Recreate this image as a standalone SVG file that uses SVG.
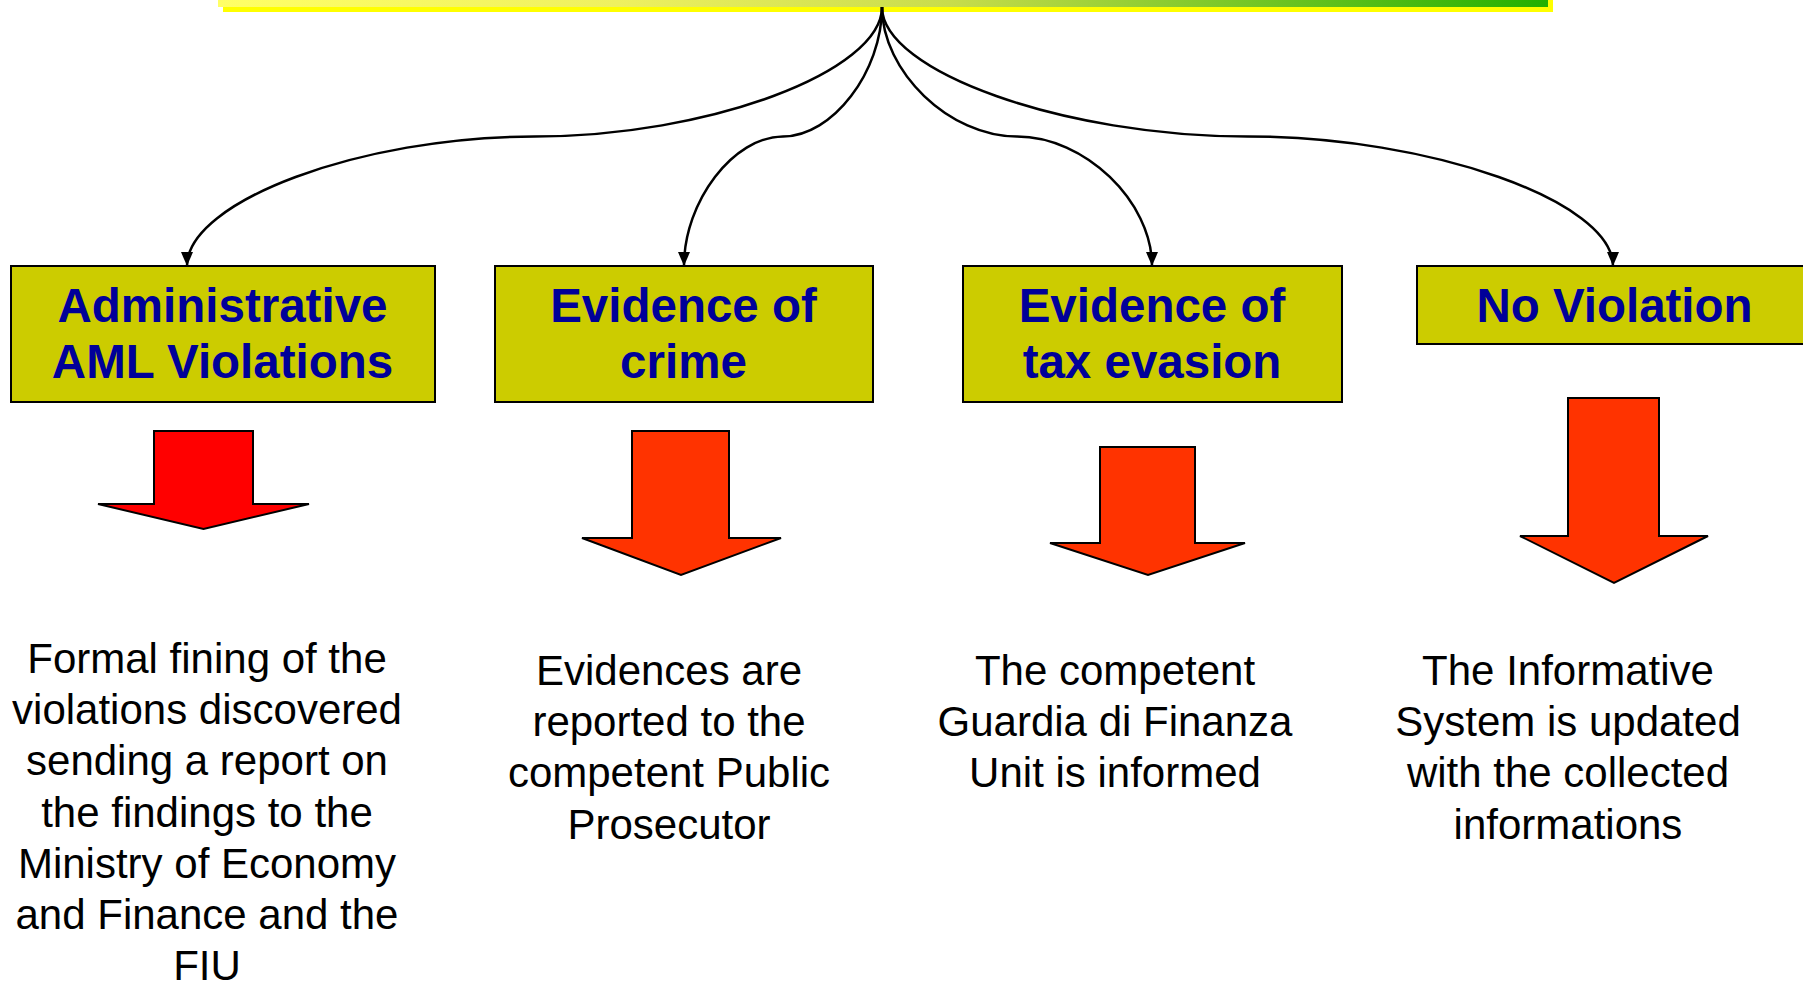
<svg xmlns="http://www.w3.org/2000/svg" width="1803" height="983" viewBox="0 0 1803 983">
<style>
.box{fill:#cccc00;stroke:#000;stroke-width:2}
.lbl{font-family:"Liberation Sans",Arial,sans-serif;font-weight:bold;font-size:47.5px;fill:#000099;text-anchor:middle}
.txt{font-family:"Liberation Sans",Arial,sans-serif;font-size:42px;fill:#000;text-anchor:middle}
.con{fill:none;stroke:#000;stroke-width:2.5}
.blk{stroke:#000;stroke-width:2;stroke-linejoin:miter}
</style>
<defs>
<linearGradient id="bar" x1="0" y1="0" x2="1" y2="0">
<stop offset="0" stop-color="#ffff66"/>
<stop offset="0.3" stop-color="#eef060"/>
<stop offset="0.55" stop-color="#c8dc4c"/>
<stop offset="1" stop-color="#22b000"/>
</linearGradient>
<marker id="ah" markerUnits="userSpaceOnUse" markerWidth="14" markerHeight="12" viewBox="0 0 14 12" refX="14" refY="6" orient="auto">
<path d="M0,0 L14,6 L0,12 Z" fill="#000"/>
</marker>
</defs>
<rect width="1803" height="983" fill="#fff"/>
<g id="title-bar">
<rect x="223" y="-45" width="1330" height="57" fill="#ffff00"/>
<rect x="218" y="-50" width="1330" height="57" fill="url(#bar)"/>
</g>
<g id="connectors">
<path class="con" marker-end="url(#ah)" d="M882,7 C882,71.75 708.25,136.5 534.5,136.5 C360.75,136.5 187,201.25 187,266"/>
<path class="con" marker-end="url(#ah)" d="M882,7 C882,71.75 832.5,136.5 783,136.5 C733.5,136.5 684,201.25 684,266"/>
<path class="con" marker-end="url(#ah)" d="M882,7 C882,71.75 949.5,136.5 1017,136.5 C1084.5,136.5 1152,201.25 1152,266"/>
<path class="con" marker-end="url(#ah)" d="M882,7 C882,71.75 1064.75,136.5 1247.5,136.5 C1430.25,136.5 1613,201.25 1613,266"/>
</g>
<g id="node-admin">
<rect class="box" x="11" y="266" width="424" height="136"/>
<text class="lbl" x="222.5" y="322">Administrative</text>
<text class="lbl" x="222.5" y="378">AML Violations</text>
</g>
<g id="node-crime">
<rect class="box" x="495" y="266" width="378" height="136"/>
<text class="lbl" x="683.5" y="322">Evidence of</text>
<text class="lbl" x="683.5" y="378">crime</text>
</g>
<g id="node-tax">
<rect class="box" x="963" y="266" width="379" height="136"/>
<text class="lbl" x="1152" y="322">Evidence of</text>
<text class="lbl" x="1152" y="378">tax evasion</text>
</g>
<g id="node-noviolation">
<rect class="box" x="1417" y="266" width="395" height="78"/>
<text class="lbl" x="1614.5" y="322">No Violation</text>
</g>
<g id="arrow-admin">
<path class="blk" fill="#ff0000" d="M154,431 H253 V504 H309 L203.5,529 L98,504 H154 Z"/>
</g>
<g id="arrow-crime">
<path class="blk" fill="#ff3300" d="M632,431 H729 V538 H781 L681,575 L582,538 H632 Z"/>
</g>
<g id="arrow-tax">
<path class="blk" fill="#ff3300" d="M1100,447 H1195 V543 H1245 L1148,575 L1050,543 H1100 Z"/>
</g>
<g id="arrow-noviolation">
<path class="blk" fill="#ff3300" d="M1568,398 H1659 V536 H1708 L1614,583 L1520,536 H1568 Z"/>
</g>
<g id="text-admin">
<text class="txt" x="207" y="673">Formal fining of the<tspan x="207" dy="51.2">violations discovered</tspan><tspan x="207" dy="51.2">sending a report on</tspan><tspan x="207" dy="51.2">the findings to the</tspan><tspan x="207" dy="51.2">Ministry of Economy</tspan><tspan x="207" dy="51.2">and Finance and the</tspan><tspan x="207" dy="51.2">FIU</tspan></text>
</g>
<g id="text-crime">
<text class="txt" x="669" y="685">Evidences are<tspan x="669" dy="51.2">reported to the</tspan><tspan x="669" dy="51.2">competent Public</tspan><tspan x="669" dy="51.2">Prosecutor</tspan></text>
</g>
<g id="text-tax">
<text class="txt" x="1115" y="685">The competent<tspan x="1115" dy="51.2">Guardia di Finanza</tspan><tspan x="1115" dy="51.2">Unit is informed</tspan></text>
</g>
<g id="text-noviolation">
<text class="txt" x="1568" y="685">The Informative<tspan x="1568" dy="51.2">System is updated</tspan><tspan x="1568" dy="51.2">with the collected</tspan><tspan x="1568" dy="51.2">informations</tspan></text>
</g>
</svg>
